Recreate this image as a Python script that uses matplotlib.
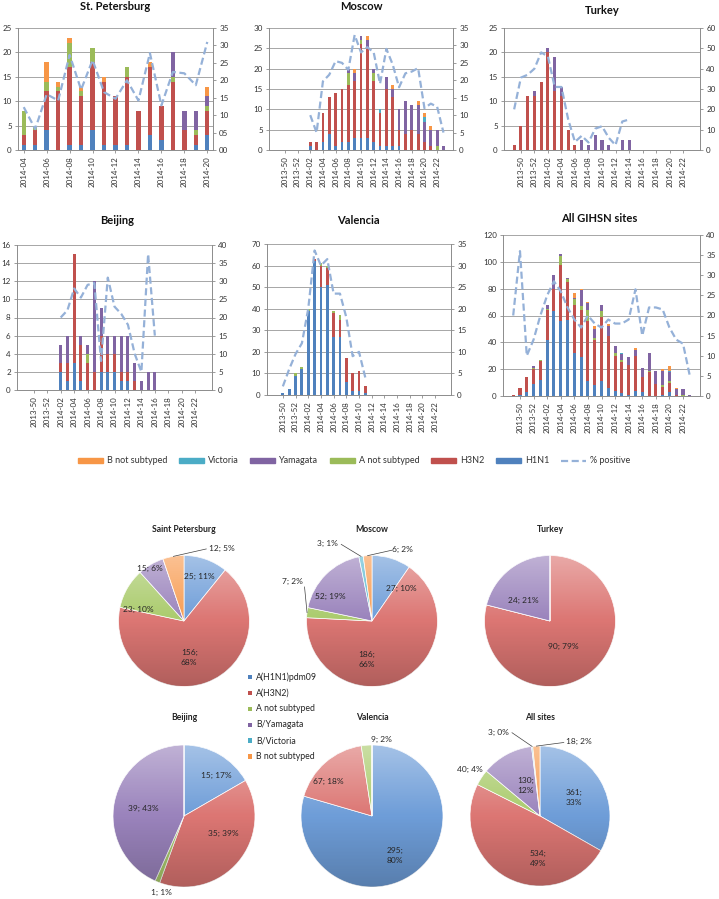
import numpy as np
import matplotlib.pyplot as plt
from matplotlib.patches import Circle, Rectangle, Patch
from matplotlib.lines import Line2D
from matplotlib.ticker import FuncFormatter

plt.rcParams['font.family'] = ['Lato', 'DejaVu Sans']

W, H = 719, 899

# ---------------- weekly data (bar charts) ----------------
weeks = ['2013-48', '2013-49', '2013-50', '2013-51', '2013-52',
         '2014-01', '2014-02', '2014-03', '2014-04', '2014-05', '2014-06',
         '2014-07', '2014-08', '2014-09', '2014-10', '2014-11', '2014-12',
         '2014-13', '2014-14', '2014-15', '2014-16', '2014-17', '2014-18',
         '2014-19', '2014-20', '2014-21', '2014-22', '2014-23', '2014-24']
spb_weeks = ['2014-04', '2014-05', '2014-06', '2014-07', '2014-08', '2014-09',
             '2014-10', '2014-11', '2014-12', '2014-13', '2014-14', '2014-15',
             '2014-16', '2014-17', '2014-18', '2014-19', '2014-20']

# St. Petersburg, from 2014-04
spb_h1n1 = [1, 1, 4, 0, 1, 1, 4, 1, 1, 1, 0, 3, 2, 0, 0, 1, 3]
spb_h3n2 = [2, 3, 8, 12, 16, 10, 14, 13, 10, 14, 8, 14, 7, 14, 4, 2, 5]
spb_anot = [5, 1, 2, 1, 5, 1, 3, 0, 0, 2, 0, 0, 0, 1, 0, 1, 1]
spb_yam = [0, 0, 0, 0, 0, 0, 0, 0, 0, 0, 0, 0, 0, 5, 4, 4, 2]
spb_vic = [0, 0, 0, 0, 0, 0, 0, 0, 0, 0, 0, 0, 0, 0, 0, 0, 0]
spb_bnot = [0, 0, 4, 1, 1, 1, 0, 1, 0, 0, 0, 1, 0, 0, 0, 0, 2]
spb_pos = [12.3, 6, 16, 14.2, 27.3, 17.3, 25.8, 16.6, 14.7, 20, 14.2, 27.8,
           12.8, 22.4, 22, 18.6, 31]

# Moscow, from 2014-02
mos_h1n1 = [1, 0, 2, 4, 1, 2, 2, 3, 3, 3, 2, 1, 1, 1, 1, 0, 0, 0, 0, 0, 0, 0]
mos_h3n2 = [1, 2, 7, 9, 13, 13, 14, 14, 23, 22, 15, 8, 14, 12, 4, 4, 5, 4, 2, 1, 0, 0]
mos_anot = [0, 0, 0, 0, 0, 0, 3, 0, 1, 0, 2, 0, 0, 0, 0, 0, 0, 0, 0, 0, 1, 0]
mos_yam = [0, 0, 0, 0, 0, 0, 1, 2, 1, 2, 1, 0, 3, 2, 5, 8, 6, 7, 5, 4, 4, 1]
mos_vic = [0, 0, 0, 0, 0, 0, 0, 0, 0, 0, 0, 1, 0, 0, 0, 0, 0, 0, 1, 0, 0, 0]
mos_bnot = [0, 0, 0, 0, 0, 0, 0, 1, 0, 1, 0, 0, 0, 1, 0, 0, 0, 1, 1, 1, 0, 0]
mos_pos = [10, 5, 19.7, 21.6, 25.5, 25, 23, 33, 28, 29.5, 28, 19, 29, 24.5,
           18, 22, 22.5, 23.5, 12, 13.3, 12.4, 5]

# Turkey, from 2013-49
tur_h1n1 = [0] * 18
tur_h3n2 = [1, 5, 11, 11, 14, 20, 12, 11, 4, 1, 0, 0, 0, 0, 0, 0, 0, 0]
tur_anot = [0] * 18
tur_yam = [0, 0, 0, 1, 0, 1, 7, 2, 0, 0, 2, 1, 3, 2, 1, 0, 2, 2]
tur_vic = [0] * 18
tur_bnot = [0] * 18
tur_pos = [20, 35.6, 37, 40, 48, 46, 31, 31, 15, 4, 7, 3.7, 10.5, 11.7, 6, 2.4, 14, 15]

# Beijing, from 2014-02
bei_h1n1 = [2, 1, 3, 1, 0, 0, 2, 2, 2, 1, 1, 0, 0, 0, 0]
bei_h3n2 = [1, 2, 12, 4, 3, 2, 4, 2, 2, 1, 1, 1, 0, 0, 0]
bei_anot = [0, 0, 0, 0, 1, 0, 0, 0, 0, 0, 0, 0, 0, 0, 0]
bei_yam = [2, 3, 0, 1, 1, 10, 3, 2, 2, 4, 4, 2, 1, 2, 2]
bei_vic = [0] * 15
bei_bnot = [0] * 15
bei_pos = [20, 22, 28, 25.5, 29, 29.5, 8, 31, 23, 21, 18, 10, 5, 37.5, 15]

# Valencia, from 2013-50
val_h1n1 = [1, 3, 9, 12, 39, 62, 50, 51, 27, 27, 6, 2, 2, 1]
val_h3n2 = [0, 0, 0, 0, 0, 1, 10, 8, 11, 8, 11, 8, 9, 3]
val_anot = [0, 0, 1, 1, 1, 0, 1, 1, 1, 2, 0, 0, 0, 0]
val_yam = [0] * 14
val_vic = [0] * 14
val_bnot = [0] * 14
val_pos = [2, 6, 9.5, 12, 20, 33.5, 30, 31.5, 23.5, 23.5, 18, 9, 10, 4]

# All GIHSN sites, from 2013-49
all_h1n1 = [0, 1, 3, 9, 12, 42, 63, 56, 57, 32, 29, 11, 8, 11, 6, 4, 2, 1, 4, 3,
            0, 0, 1, 3, 0, 0, 0]
all_h3n2 = [1, 5, 11, 11, 14, 22, 17, 42, 28, 36, 35, 45, 34, 48, 39, 26, 23, 22,
            26, 11, 18, 9, 6, 7, 1, 0, 0]
all_anot = [0, 0, 0, 1, 1, 1, 0, 6, 2, 4, 3, 8, 1, 4, 0, 2, 2, 0, 0, 0, 1, 0, 1,
            1, 0, 1, 0]
all_yam = [0, 0, 0, 1, 0, 3, 10, 2, 1, 1, 12, 5, 7, 5, 7, 5, 4, 6, 4, 7, 13, 10,
           11, 7, 4, 4, 1]
all_vic = [0, 0, 0, 0, 0, 0, 0, 0, 0, 0, 0, 0, 0, 0, 0, 0, 1, 0, 0, 0, 0, 0, 0,
           1, 0, 0, 0]
all_bnot = [0, 0, 0, 0, 0, 0, 0, 0, 0, 4, 1, 1, 2, 0, 2, 0, 0, 0, 2, 0, 0, 0, 1,
            3, 1, 0, 0]
all_pos = [20, 36, 10, 14, 20, 25, 28.5, 26, 22, 19, 17, 20, 18, 17, 19, 18, 18,
           19, 26.5, 15, 22, 22, 21.5, 17, 14, 13, 5]

# ---------------- season totals (pies) ----------------
pie_types = ['A(H1N1)pdm09', 'A(H3N2)', 'A not subtyped', 'B/Yamagata',
             'B/Victoria', 'B not subtyped']
pie_spb = [25, 156, 23, 15, 0, 12]
pie_mos = [27, 186, 7, 52, 3, 6]
pie_tur = [0, 90, 0, 24, 0, 0]
pie_bei = [15, 35, 1, 39, 0, 0]
pie_val = [295, 67, 9, 0, 0, 0]
pie_all = [361, 534, 40, 130, 3, 18]

bar_colors = ['#4F81BD', '#C0504D', '#9BBB59', '#8064A2', '#4BACC6', '#F79646']
pie_colors = ['#6E9DD8', '#DC7673', '#AACB6C', '#9A83BC', '#5DBAD2', '#F89C52']
line_col = '#95B1D8'
grid_col = '#A6A6A6'
axis_col = '#8C8C8C'
txt_col = '#333333'

fig = plt.figure(figsize=(W / 100, H / 100), dpi=100)


def bar_panel(box, title, tpos, cats, tick_idx, first, stacks, pos,
              ymax, ystep, y2max, y2step, bw=0.45, y2fmt=None):
    x0, y0, x1, y1 = box
    ax = fig.add_axes([x0 / W, 1 - y1 / H, (x1 - x0) / W, (y1 - y0) / H])
    start = cats.index(first)
    x = np.arange(start, start + len(pos))
    bottom = np.zeros(len(pos))
    for vals, c in zip(stacks, bar_colors):
        vals = np.asarray(vals, float)
        ax.bar(x, vals, width=bw, bottom=bottom, color=c, linewidth=0)
        bottom += vals
    ax.set_xlim(-0.5, len(cats) - 0.5)
    ax.set_ylim(0, ymax)
    ax.set_yticks(np.arange(0, ymax + 0.01, ystep))
    ax.yaxis.grid(True, color=grid_col, lw=0.7)
    ax.set_axisbelow(True)
    ax.set_xticks(tick_idx)
    ax.set_xticklabels([cats[i] for i in tick_idx], rotation=90)
    ax2 = ax.twinx()
    ax2.plot(x, pos, color=line_col, lw=1.6, ls=(0, (3.2, 1.6)))
    ax2.set_ylim(0, y2max)
    ax2.set_yticks(np.arange(0, y2max + 0.01, y2step))
    if y2fmt:
        ax2.yaxis.set_major_formatter(FuncFormatter(lambda v, p: y2fmt % v))
    for a in (ax, ax2):
        for s in a.spines.values():
            s.set_color(axis_col)
            s.set_linewidth(0.7)
        a.spines['top'].set_visible(False)
        a.tick_params(labelsize=5.8, labelcolor=txt_col, length=2.5,
                      width=0.6, color=axis_col, pad=2)
    ax.spines['right'].set_visible(False)
    ax2.spines['left'].set_visible(False)
    ax2.spines['bottom'].set_visible(False)
    fig.text(tpos[0] / W, 1 - tpos[1] / H, title, ha='center', va='center',
             fontsize=8, weight='bold', color='#111111')


spb_ticks = list(range(0, 17, 2))
wk_ticks = list(range(2, 27, 2))

bar_panel((18, 28, 213, 150), 'St. Petersburg', (115, 7), spb_weeks, spb_ticks,
          '2014-04', [spb_h1n1, spb_h3n2, spb_anot, spb_yam, spb_vic, spb_bnot],
          spb_pos, 25, 5, 35, 5, bw=0.38, y2fmt='%02d')
bar_panel((269, 28, 453, 150), 'Moscow', (361, 7), weeks, wk_ticks,
          '2014-02', [mos_h1n1, mos_h3n2, mos_anot, mos_yam, mos_vic, mos_bnot],
          mos_pos, 30, 5, 35, 5)
bar_panel((504, 28, 700, 150), 'Turkey', (602, 11), weeks, wk_ticks,
          '2013-49', [tur_h1n1, tur_h3n2, tur_anot, tur_yam, tur_vic, tur_bnot],
          tur_pos, 25, 5, 60, 10)
bar_panel((17, 245, 212, 390), 'Beijing', (117, 221), weeks, wk_ticks,
          '2014-02', [bei_h1n1, bei_h3n2, bei_anot, bei_yam, bei_vic, bei_bnot],
          bei_pos, 16, 2, 40, 5)
bar_panel((267, 244, 451, 395), 'Valencia', (358, 220), weeks, wk_ticks,
          '2013-50', [val_h1n1, val_h3n2, val_anot, val_yam, val_vic, val_bnot],
          val_pos, 70, 10, 35, 5)
bar_panel((503, 235, 700, 396), 'All GIHSN sites', (599, 219), weeks, wk_ticks,
          '2013-49', [all_h1n1, all_h3n2, all_anot, all_yam, all_vic, all_bnot],
          all_pos, 120, 20, 40, 5)

# legend of the bar charts
leg_names = ['B not subtyped', 'Victoria', 'Yamagata', 'A not subtyped', 'H3N2', 'H1N1']
leg_handles = [Patch(color=c) for c in bar_colors[::-1]]
leg_handles.append(Line2D([0], [0], color=line_col, lw=1.6, ls=(0, (3.2, 1.6))))
fig.legend(leg_handles, leg_names + ['% positive'], loc='center',
           bbox_to_anchor=(354 / W, 1 - 461 / H), ncol=7, frameon=False,
           fontsize=6.5, handlelength=2.8, handleheight=0.55,
           columnspacing=1.3, handletextpad=0.4, labelcolor=txt_col)


# ---------------- pies ----------------
def pie_panel(cx, cy, r, title, ty, vals, spots):
    s = 1.7
    ax = fig.add_axes([(cx - s * r) / W, 1 - (cy + s * r) / H,
                       2 * s * r / W, 2 * s * r / H])
    wedges, _ = ax.pie(vals, colors=pie_colors, startangle=90, counterclock=False,
                       radius=1, wedgeprops=dict(linewidth=0.5, edgecolor='white'))
    t = np.linspace(0, 1, 256)
    grad = np.zeros((256, 1, 4))
    top = t < 0.5
    grad[top, 0, :3] = 1.0
    grad[top, 0, 3] = 0.38 * (1 - 2 * t[top])
    grad[~top, 0, 3] = 0.2 * (2 * t[~top] - 1)
    img = ax.imshow(grad, extent=(-1, 1, -1, 1), aspect='auto', zorder=2,
                    interpolation='bilinear')
    img.set_clip_path(Circle((0, 0), 1, transform=ax.transData))
    ax.set_xlim(-s, s)
    ax.set_ylim(-s, s)
    ax.set_aspect('equal')
    ax.axis('off')
    tot = sum(vals)
    for w, v, sp in zip(wedges, vals, spots):
        if v == 0 or sp is None:
            continue
        sep = '\n' if v >= 100 else ' '
        lab = f'{v};{sep}{round(100 * v / tot)}%'
        ax.text(sp[0], sp[1], lab, ha='center', va='center', fontsize=6,
                color='#262626', zorder=4, linespacing=1.5)
        if len(sp) == 4:
            th = np.deg2rad((w.theta1 + w.theta2) / 2)
            ax.plot([np.cos(th), sp[2]], [np.sin(th), sp[3]], color='#404040',
                    lw=0.5, zorder=4, clip_on=False)
    fig.text(cx / W, 1 - ty / H, title, ha='center', va='center', fontsize=6.2,
             weight='bold', color='#222222')


spb_spots = [(0.24, 0.68), (0.08, -0.55), (-0.7, 0.18), (-0.52, 0.8), None,
             (0.58, 1.1, 0.34, 1.1)]
mos_spots = [(0.44, 0.49), (-0.08, -0.58), (-1.21, 0.6, -1.03, 0.52),
             (-0.64, 0.38), (-0.68, 1.18, -0.47, 1.17), (0.47, 1.09, 0.3, 1.08)]
tur_spots = [None, (0.21, -0.39), None, (-0.41, 0.32), None, None]
bei_spots = [(0.46, 0.57), (0.56, -0.25), (-0.32, -1.07), (-0.58, 0.11), None, None]
val_spots = [(0.32, -0.55), (-0.62, 0.48), (0.13, 1.08), None, None, None]
all_spots = [(0.48, 0.26), (-0.03, -0.6), (-1.0, 0.67), (-0.21, 0.43),
             (-0.59, 1.2, -0.4, 1.19), (0.55, 1.07, 0.34, 1.05)]

pie_panel(184, 621, 65.5, 'Saint Petersburg', 529, pie_spb, spb_spots)
pie_panel(372, 621, 65.5, 'Moscow', 529, pie_mos, mos_spots)
pie_panel(550, 621, 65.5, 'Turkey', 529, pie_tur, tur_spots)
pie_panel(184, 816, 71, 'Beijing', 718, pie_bei, bei_spots)
pie_panel(372, 816, 71, 'Valencia', 718, pie_val, val_spots)
pie_panel(540, 816, 70, 'All sites', 718, pie_all, all_spots)

# legend of the pies
for k, (name, c) in enumerate(zip(pie_types, bar_colors)):
    yk = 677 + k * 15.9
    fig.add_artist(Rectangle((248 / W, 1 - (yk + 2.2) / H), 4.4 / W, 4.4 / H,
                             transform=fig.transFigure, color=c, lw=0))
    fig.text(256 / W, 1 - yk / H, name, ha='left', va='center', fontsize=6.3,
             color='#262626')

fig.savefig('out.png', dpi=100)
